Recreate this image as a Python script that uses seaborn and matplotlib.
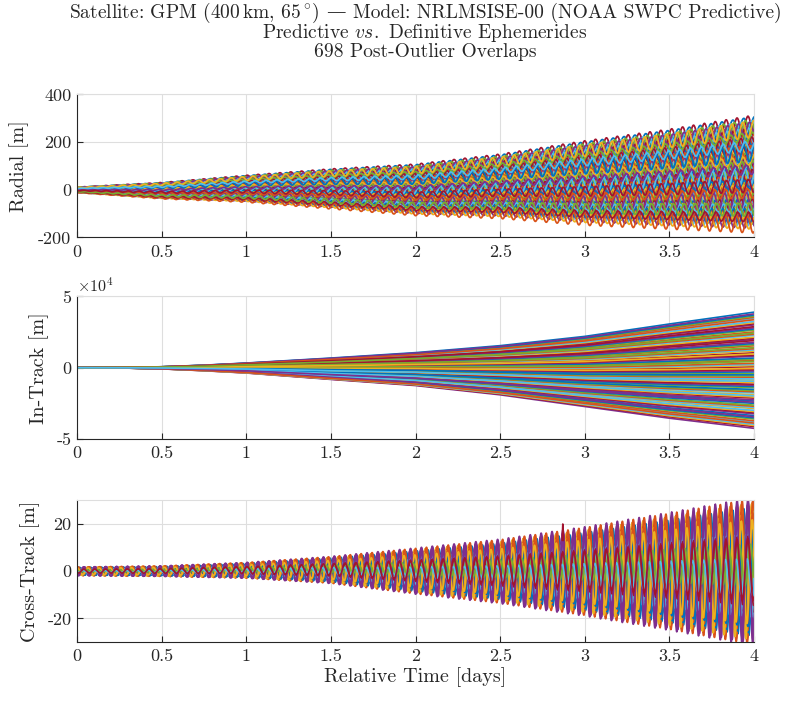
import numpy as np
import pandas as pd
import matplotlib
matplotlib.use("Agg")
import matplotlib.pyplot as plt
import seaborn as sns
from matplotlib.ticker import FixedLocator, FuncFormatter
from matplotlib.offsetbox import TextArea, HPacker, AnnotationBbox

# ---------------- values ----------------
env_days = [0.0, 0.5, 1.0, 1.5, 2.0, 2.5, 3.0, 3.5, 4.0]

# envelope of all overlaps (upper / lower edge), per panel
radial_upper = [12, 32, 63, 91, 112, 155, 212, 262, 322]
radial_lower = [-12, -38, -52, -80, -108, -120, -148, -164, -180]

intrack_days = [0.0, 0.25, 0.5, 0.75, 1.0, 1.5, 2.0, 2.5, 3.0, 3.5, 4.0]
intrack_upper = [0, 150, 700, 1800, 3300, 6800, 10600, 15500, 22000, 30700, 39000]
intrack_lower = [0, -150, -800, -2100, -3700, -8200, -12500, -19000, -27200, -35400, -42500]

cross_upper = [1.7, 2.1, 3.5, 5.9, 9.2, 12.7, 17.6, 23.3, 29.3]
cross_lower = [-1.8, -2.1, -2.8, -4.9, -9.2, -13.0, -18.0, -23.7, -30.0]

# position of each drawn overlap inside the envelope (-1 = lower edge, 1 = upper edge)
radial_pos = [0.86, 0.835, 0.81, 0.785, 0.76, 0.735, 0.71, 0.685, 0.66, 0.635,
              0.61, 0.585, 0.56, 0.535, 0.51, 0.485, 0.46, 0.435, 0.41, 0.385,
              0.36, 0.335, 0.31, 0.285, 0.26, 0.235, 0.21, 0.185, 0.16, 0.135,
              0.11, 0.085, 0.06, 0.035, 0.01, -0.015, -0.04, -0.065, -0.09, -0.115,
              -0.14, -0.165, -0.19, -0.215, -0.24, -0.265, -0.29, -0.315, -0.34, -0.365,
              -0.39, -0.415, -0.44, -0.465, -0.49, -0.515, -0.54, -0.565, -0.59, -0.615,
              -0.64, -0.665, -0.69, -0.715, -0.74, -0.765, -0.79, -0.815, -0.84, -0.865]
# once-per-rev oscillation amplitude (fraction of envelope half-width)
radial_amp = [0.08, 0.13, 0.07, 0.11, 0.10, 0.14, 0.09, 0.12]

intrack_pos = [1.00, 0.97, 0.95, 0.93, 0.91, 0.89, 0.87, 0.84, 0.82, 0.80,
               0.78, 0.75, 0.73, 0.71, 0.69, 0.66, 0.64, 0.62, 0.60, 0.57,
               0.55, 0.53, 0.51, 0.48, 0.46, 0.44, 0.42, 0.39, 0.37, 0.35,
               0.33, 0.30, 0.28, 0.26, 0.24, 0.21, 0.19, 0.17, 0.15, 0.12,
               0.10, 0.08, 0.06, 0.03, 0.01, -0.01, -0.03, -0.06, -0.08, -0.10,
               -0.12, -0.15, -0.17, -0.19, -0.21, -0.24, -0.26, -0.28, -0.30, -0.33,
               -0.35, -0.37, -0.39, -0.42, -0.44, -0.46, -0.48, -0.51, -0.53, -0.55,
               -0.57, -0.60, -0.62, -0.64, -0.66, -0.69, -0.71, -0.73, -0.75, -0.78,
               -0.80, -0.82, -0.84, -0.87, -0.89, -0.91, -0.93, -0.95, -0.97, -1.00]

cross_pos = [0.08, -0.05, 0.02, -0.09, 0.05, 0.00, -0.03, 0.10, -0.07, 0.04]
# amplitude per line (colour order blue, orange, yellow, purple, green, cyan, red)
cross_amp = [0.85, 0.95, 0.90, 0.97, 0.22, 0.60, 0.50,
             0.70, 0.80, 0.75, 0.88, 0.30, 0.26, 0.45]
# orbital phase per colour group (fraction of a revolution)
cross_phase = [0.00, 0.12, 0.20, 0.55, 0.35, 0.70, 0.55]
cross_lines = 70
cross_spike_days = [2.866, 2.870, 2.874]
cross_spike_vals = [13.0, 20.0, 13.0]

orbit_rev_per_day = 15.55
x_ticks = [0, 0.5, 1, 1.5, 2, 2.5, 3, 3.5, 4]
radial_ticks = [-200, 0, 200, 400]
intrack_ticks = [-5e4, 0, 5e4]
cross_ticks = [-20, 0, 20]

matlab_colors = ["#0072BD", "#D95319", "#EDB120", "#7E2F8E", "#77AC30", "#4DBEEE", "#A2142F"]

title_head = "Satellite: GPM (400$\\,$km, 65$\\,^{\\circ}$)"
title_dash = "\u2014"
title_tail = "Model: NRLMSISE-00 (NOAA SWPC Predictive)"
title_line2 = "Predictive $\\mathit{vs.}$ Definitive Ephemerides"
title_line3 = "698 Post-Outlier Overlaps"

# ---------------- style ----------------
sns.set_theme(style="white")
plt.rcParams["font.family"] = ["cmr10", "DejaVu Serif"]
plt.rcParams["mathtext.fontset"] = "cm"
plt.rcParams["axes.unicode_minus"] = False

TXT = "#262626"
GRID = "#dedede"
TICK_FS = 13
LAB_FS = 14.5
TITLE_FS = 14

t = np.linspace(0.0, 4.0, 2401)
phase_step = 0.6180339887


def osc_frame(upper, lower, pos, amp, order, phase_of):
    up = np.asarray(upper, float)
    lo = np.asarray(lower, float)
    mid = np.interp(t, env_days, (up + lo) / 2)
    half = np.interp(t, env_days, (up - lo) / 2)
    frames = []
    for j, k in enumerate(order):
        ph = 2 * np.pi * phase_of(j, k)
        y = mid + half * (pos[k % len(pos)] + amp[k % len(amp)] *
                          np.sin(2 * np.pi * orbit_rev_per_day * t + ph))
        frames.append(pd.DataFrame({"day": t, "value": y, "line": f"L{j:03d}"}))
    return pd.concat(frames, ignore_index=True)


def smooth_frame(days, upper, lower, pos, order):
    up = np.asarray(upper, float)
    lo = np.asarray(lower, float)
    mid = (up + lo) / 2
    half = (up - lo) / 2
    frames = []
    for j, k in enumerate(order):
        frames.append(pd.DataFrame({"day": days, "value": mid + half * pos[k],
                                    "line": f"L{j:03d}"}))
    return pd.concat(frames, ignore_index=True)


n_r = len(radial_pos)
radial_order = [(k * 27) % n_r for k in range(n_r)]
df_r = osc_frame(radial_upper, radial_lower, radial_pos, radial_amp, radial_order,
                 lambda j, k: (k * phase_step) % 1.0)

n_i = len(intrack_pos)
intrack_order = [(k * 37) % n_i for k in range(n_i)]
df_i = smooth_frame(intrack_days, intrack_upper, intrack_lower, intrack_pos, intrack_order)

cross_order = list(range(cross_lines))
df_c = osc_frame(cross_upper, cross_lower, cross_pos, cross_amp, cross_order,
                 lambda j, k: cross_phase[k % 7] + 0.12 * ((k * phase_step) % 1.0))


def palette_for(df):
    levels = sorted(df["line"].unique())
    return levels, {lv: matlab_colors[i % 7] for i, lv in enumerate(levels)}


fig = plt.figure(figsize=(7.95, 7.02), dpi=100)
ax_r = fig.add_axes([0.0969, 0.6617, 0.8516, 0.2037])
ax_i = fig.add_axes([0.0969, 0.3746, 0.8516, 0.2031])
ax_c = fig.add_axes([0.0969, 0.0855, 0.8516, 0.2017])

for ax, df, lw in [(ax_r, df_r, 1.25), (ax_i, df_i, 1.2), (ax_c, df_c, 1.25)]:
    levels, pal = palette_for(df)
    sns.lineplot(data=df, x="day", y="value", hue="line", hue_order=levels, palette=pal,
                 estimator=None, sort=False, legend=False, linewidth=lw, ax=ax)

sns.lineplot(x=cross_spike_days, y=cross_spike_vals, color="#A2142F", linewidth=1.2,
             estimator=None, sort=False, ax=ax_c)

fmt = FuncFormatter(lambda v, p: f"{v:g}")
label_x = {"Radial [m]": -0.071, "In-Track [m]": -0.041, "Cross-Track [m]": -0.055}
for ax, lim, ticks, lab in [(ax_r, (-200, 400), radial_ticks, "Radial [m]"),
                            (ax_i, (-5e4, 5e4), intrack_ticks, "In-Track [m]"),
                            (ax_c, (-30, 30), cross_ticks, "Cross-Track [m]")]:
    ax.set_xlim(0, 4)
    ax.set_ylim(*lim)
    ax.xaxis.set_major_locator(FixedLocator(x_ticks))
    ax.yaxis.set_major_locator(FixedLocator(ticks))
    ax.xaxis.set_major_formatter(fmt)
    if ax is ax_i:
        ax.yaxis.set_major_formatter(FuncFormatter(lambda v, p: f"{v / 1e4:g}"))
    else:
        ax.yaxis.set_major_formatter(fmt)
    ax.grid(True, color=GRID, linewidth=0.8)
    ax.set_axisbelow(True)
    for s in ["left", "bottom"]:
        ax.spines[s].set_color(TXT)
        ax.spines[s].set_linewidth(0.8)
    for s in ["top", "right"]:
        ax.spines[s].set_color(GRID)
        ax.spines[s].set_linewidth(0.8)
    ax.tick_params(axis="both", direction="in", length=4, width=0.8, color=TXT,
                   labelcolor=TXT, labelsize=TICK_FS, bottom=True, left=True,
                   top=False, right=False)
    ax.tick_params(axis="x", pad=5)
    ax.tick_params(axis="y", pad=4)
    ax.set_ylabel(lab, fontsize=LAB_FS, color=TXT)
    ax.yaxis.set_label_coords(label_x[lab], 0.5)
    ax.set_xlabel("")

ax_i.text(0.0, 1.01, "$\\times10^{4}$", transform=ax_i.transAxes, ha="left", va="bottom",
          fontsize=TICK_FS - 1.5, color=TXT)
ax_c.set_xlabel("Relative Time [days]", fontsize=LAB_FS, color=TXT, labelpad=2)

xc = 425 / 795
tp = dict(fontsize=TITLE_FS, color=TXT)
head = TextArea(title_head, textprops=dict(tp, family=["cmr10"]))
dash = TextArea(title_dash, textprops=dict(tp, family=["DejaVu Serif"]))
tail = TextArea(title_tail, textprops=dict(tp, family=["cmr10"]))
pack = HPacker(children=[head, dash, tail], align="baseline", pad=0, sep=5)
fig.add_artist(AnnotationBbox(pack, (xc, 1 - 12.5 / 702), xycoords="figure fraction",
                              box_alignment=(0.5, 0.5), frameon=False, pad=0))
fig.text(xc, 1 - 33 / 702, title_line2, ha="center", va="center", **tp)
fig.text(xc, 1 - 52 / 702, title_line3, ha="center", va="center", **tp)

fig.savefig("out.png", dpi=100)
